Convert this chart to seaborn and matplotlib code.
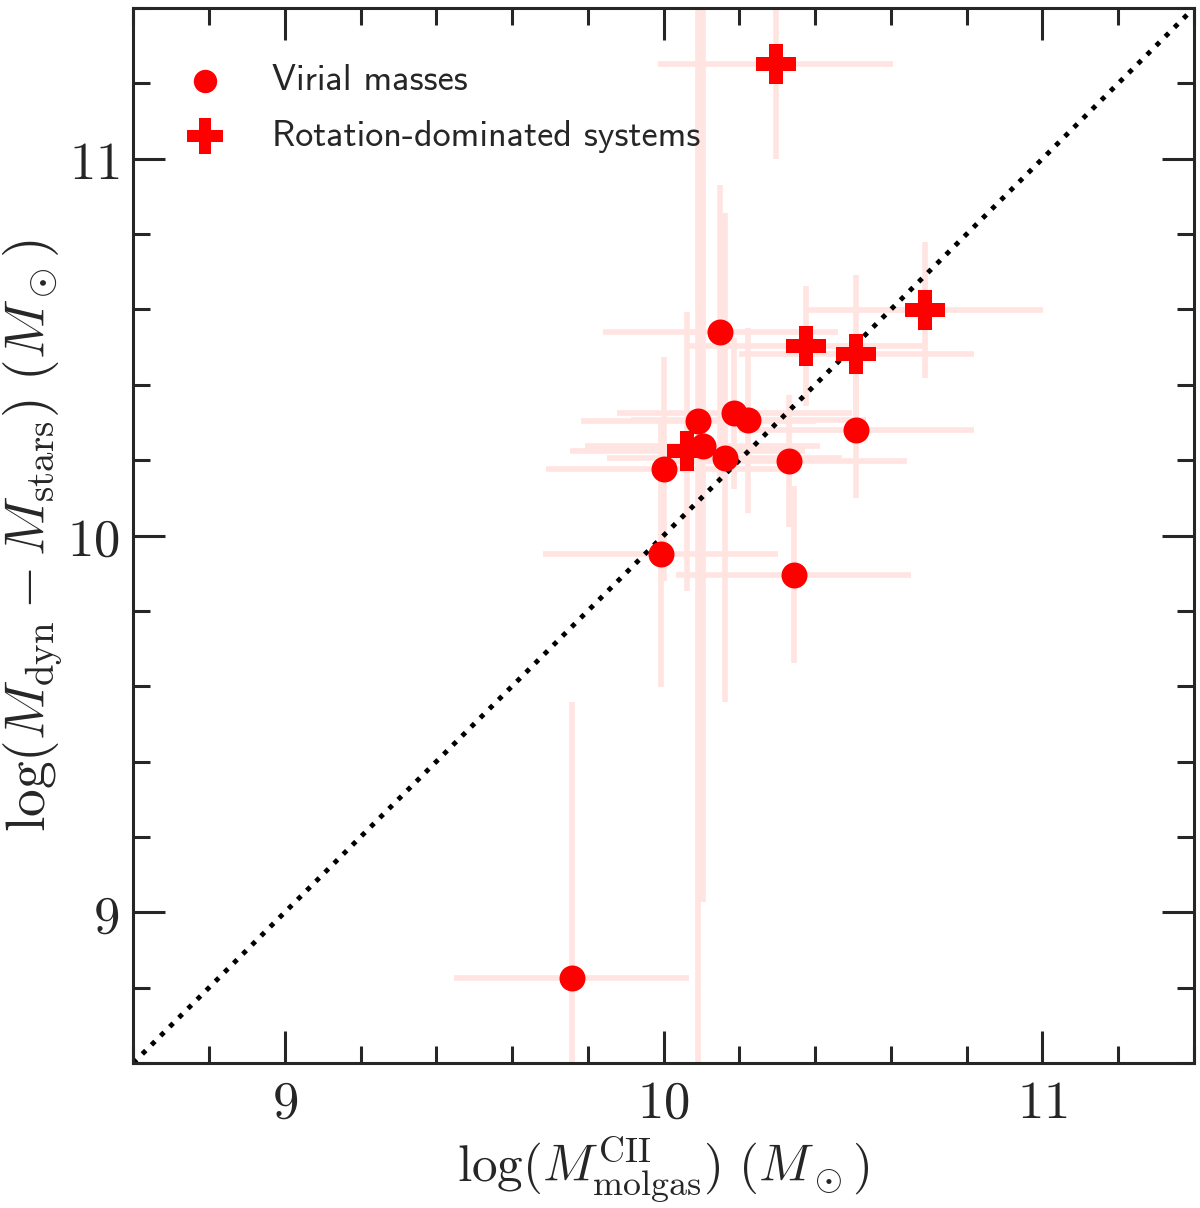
import os
import matplotlib
matplotlib.use("Agg")
import matplotlib.pyplot as plt
from matplotlib.font_manager import FontProperties
from matplotlib.ticker import MultipleLocator, FuncFormatter
import seaborn as sns
import pandas as pd
import numpy as np

# virial masses (circles)
vir_x = [9.757, 9.992, 10.000, 10.092, 10.103, 10.187, 10.224, 10.161, 10.150, 10.332, 10.343, 10.509]
vir_y = [8.827, 9.952, 10.176, 10.303, 10.237, 10.324, 10.306, 10.207, 10.540, 10.197, 9.896, 10.279]
vir_xerr = [0.31] * 12
vir_yerr = [0.73, 0.354, 0.298, 1.80, 1.21, 0.20, 0.245, 0.65, 0.39, 0.175, 0.235, 0.18]

# rotation-dominated systems (crosses)
rot_x = [10.296, 10.063, 10.375, 10.509, 10.691]
rot_y = [11.25, 10.223, 10.503, 10.481, 10.598]
rot_xerr = [0.31] * 5
rot_yerr = [0.25, 0.37, 0.16, 0.21, 0.18]

vir = pd.DataFrame({"x": vir_x, "y": vir_y})
rot = pd.DataFrame({"x": rot_x, "y": rot_y})

sns.set_style("ticks")
plt.rcParams["mathtext.fontset"] = "cm"
plt.rcParams["font.family"] = ["DejaVu Sans"]

sans = FontProperties(fname=os.path.join(matplotlib.get_data_path(), "fonts", "ttf", "cmss10.ttf"), size=26)

fig, ax = plt.subplots(figsize=(12, 12.08), dpi=100)
fig.subplots_adjust(left=0.111, right=0.995, bottom=0.12, top=0.9934)

errcol = "#ffe4e1"
ax.errorbar(vir_x, vir_y, xerr=vir_xerr, yerr=vir_yerr, fmt="none", ecolor=errcol, elinewidth=4, capsize=0, zorder=1)
ax.errorbar(rot_x, rot_y, xerr=rot_xerr, yerr=rot_yerr, fmt="none", ecolor=errcol, elinewidth=4, capsize=0, zorder=1)

lims = [8.6, 11.4]
ax.plot(lims, lims, color="black", linestyle=":", linewidth=3.5, zorder=2)

sns.scatterplot(data=vir, x="x", y="y", ax=ax, color="red", marker="o", s=350, linewidth=0,
                label="Virial masses", zorder=3)
sns.scatterplot(data=rot, x="x", y="y", ax=ax, color="red", marker="P", s=840, linewidth=0,
                label="Rotation-dominated systems", zorder=3)

ax.set_xlim(lims)
ax.set_ylim(lims)

ax.xaxis.set_major_locator(MultipleLocator(1))
ax.yaxis.set_major_locator(MultipleLocator(1))
ax.xaxis.set_minor_locator(MultipleLocator(0.2))
ax.yaxis.set_minor_locator(MultipleLocator(0.2))
fmt = FuncFormatter(lambda v, p: r"$%d$" % round(v))
ax.xaxis.set_major_formatter(fmt)
ax.yaxis.set_major_formatter(fmt)

ax.tick_params(which="both", direction="in", top=True, right=True, width=2.2, labelsize=38)
ax.tick_params(which="major", length=23, pad=10)
ax.tick_params(which="minor", length=12)
for sp in ax.spines.values():
    sp.set_linewidth(2.2)

ax.set_xlabel(r"$\log(M^{\rm CII}_{\rm molgas})\ (M_\odot)$", fontsize=37, labelpad=4)
ax.set_ylabel(r"$\log(M_{\rm dyn}-M_{\rm stars})\ (M_\odot)$", fontsize=40, labelpad=1)

ax.legend(loc="upper left", frameon=False, prop=sans, markerscale=0.9, handletextpad=0.85,
          borderaxespad=0.6, labelspacing=0.62, bbox_to_anchor=(0.0, 0.981))

plt.savefig("out.png", dpi=100)
